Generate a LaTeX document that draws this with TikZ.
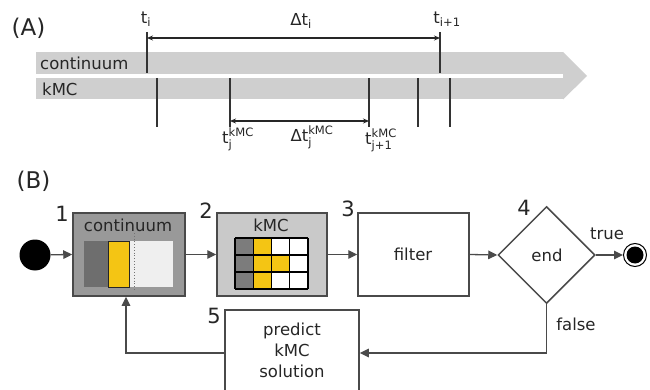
\documentclass[tikz,border=0pt]{standalone}
\usepackage{fontspec}
\usepackage{amsmath}
\setmainfont{DejaVu Sans}
\usetikzlibrary{arrows.meta,shapes.geometric}

\definecolor{bargray}{HTML}{CFCFCF}
\definecolor{boxdark}{HTML}{999999}
\definecolor{boxlight}{HTML}{C9C9C9}
\definecolor{cellgray}{HTML}{7C7C7C}
\definecolor{innerdark}{HTML}{6E6E6E}
\definecolor{ochre}{HTML}{F4C514}
\definecolor{pale}{HTML}{EFEFEF}
\definecolor{linegray}{HTML}{4A4A4A}

\tikzset{
  lbl/.style={font=\fontsize{16.5}{21}\selectfont, inner sep=0pt, text=black!85},
  big/.style={font=\fontsize{23}{27}\selectfont, inner sep=0pt, text=black!85},
  num/.style={font=\fontsize{21}{24}\selectfont, inner sep=0pt, text=black!85},
  tick/.style={line width=2pt, draw=black!80},
  span/.style={line width=1.2pt, draw=black!85,
    {Stealth[length=6pt,width=5pt]}-{Stealth[length=6pt,width=5pt]}},
  flow/.style={line width=1.3pt, draw=linegray,
    -{Triangle[length=9pt,width=8.5pt]}},
  stepbox/.style={draw=linegray, line width=1.5pt, inner sep=0pt,
    minimum height=83pt},
  cellline/.style={draw=black, line width=1.1pt},
}

\begin{document}
\begin{tikzpicture}[x=1pt,y=-1pt]
\useasboundingbox (0,0) rectangle (650,390);
\clip (0,0) rectangle (650,390);

% ---------------- (A) time lines ----------------
\node[big] (labA) at (28.5,28.5) {(A)};

\fill[bargray] (36,52) rectangle (563,74);
\fill[bargray] (36,78) rectangle (563,99.5);
\fill[bargray] (563,52) -- (587,76) -- (563,99.5) -- cycle;

\node[lbl, anchor=west] (barcont) at (40,63) {continuum};
\node[lbl, anchor=west] (barkmc) at (42,89) {kMC};

% continuum steps
\coordinate (ti top) at (147,32);
\coordinate (ti bot) at (147,73);
\coordinate (tn top) at (440,32);
\coordinate (tn bot) at (440,73);
\draw[tick] (ti top) -- (ti bot);
\draw[tick] (tn top) -- (tn bot);
\coordinate (dti a) at (147,38);
\coordinate (dti b) at (440,38);
\draw[span] (dti a) -- (dti b);
\node[lbl] (ti) at (146,19) {$\text{t}_{\text{i}}$};
\node[lbl] (tn) at (447,19) {$\text{t}_{\text{i+1}}$};
\node[lbl] (dti) at (301,21) {$\text{Δt}_{\text{i}}$};

% kMC steps
\foreach \x [count=\k] in {157,230,369,418,450}{
  \coordinate (k\k top) at (\x,78);
  \coordinate (k\k bot) at (\x,127);
  \draw[tick] (k\k top) -- (k\k bot);
}
\coordinate (dtj a) at (230,121);
\coordinate (dtj b) at (369,121);
\draw[span] (dtj a) -- (dtj b);
\node[lbl, anchor=west] (tj) at (222,139) {$\text{t}_{\text{j}}^{\text{kMC}}$};
\node[lbl] (dtj) at (312,137) {$\text{Δt}_{\text{j}}^{\text{kMC}}$};
\node[lbl, anchor=west] (tjn) at (365,140) {$\text{t}_{\text{j+1}}^{\text{kMC}}$};

% ---------------- (B) flow chart ----------------
\node[big] (labB) at (33.5,181.5) {(B)};

\node[circle, fill=black, minimum size=31pt, inner sep=0pt] (start) at (35,255) {};

\node[stepbox, fill=boxdark, minimum width=112pt] (cont) at (129,254.5) {};
\node[stepbox, fill=boxlight, minimum width=110pt] (kmc) at (272,254.5) {};
\node[stepbox, fill=white, minimum width=111pt] (filter) at (413.5,254.5) {};
\node[diamond, draw=linegray, line width=1.5pt, minimum width=97pt,
      minimum height=97pt, inner sep=0pt] (decide) at (546.5,255) {};
\node[circle, draw=black, line width=1pt, minimum size=23pt, inner sep=0pt] (stop) at (635,255) {};
\node[circle, fill=black, minimum size=17pt, inner sep=0pt] (stopdot) at (stop) {};
\node[stepbox, fill=white, minimum width=134pt, minimum height=86pt] (pred) at (292,353) {};

% texts inside the steps
\node[lbl] (conttxt) at (128,225) {continuum};
\node[lbl] (kmctxt) at (271,225) {kMC};
\node[lbl] (filtertxt) at (413,254) {filter};
\node[lbl] (decidetxt) at (547,255) {end};
\node[lbl, align=center] (predtxt) at (292,350) {predict\\kMC\\solution};

% continuum sketch: solid / reacting / fluid regions
\fill[innerdark] (84,241) rectangle (108,287);
\fill[pale] (129,241) rectangle (173,287);
\filldraw[fill=ochre, draw=black!85, line width=1pt] (108,241) rectangle (129,287);
\draw[dotted, line width=0.8pt, black!55] (134,233) -- (134,290);

% kMC lattice 4 x 3
\foreach \c/\r/\col in {0/0/cellgray,0/1/cellgray,0/2/cellgray,
                        1/0/ochre,1/1/ochre,1/2/ochre,2/1/ochre,
                        2/0/white,2/2/white,3/0/white,3/1/white,3/2/white}{
  \fill[\col] (235+18.25*\c,238+17*\r) rectangle (235+18.25*\c+18.25,238+17*\r+17);
}
\foreach \c in {0,...,4}{
  \draw[cellline] (235+18.25*\c,238) -- (235+18.25*\c,289);
}
\foreach \r in {0,...,3}{
  \draw[cellline] (235,238+17*\r) -- (308,238+17*\r);
}

% step numbers
\node[num] (n1) at (62,214) {1};
\node[num] (n2) at (206,211) {2};
\node[num] (n3) at (348,209) {3};
\node[num] (n4) at (524,208) {4};
\node[num] (n5) at (214,316) {5};

% connectors
\draw[flow] (start) -- (cont.west);
\draw[flow] (cont.east) -- (kmc.west);
\draw[flow] (kmc.east) -- (filter.west);
\draw[flow] (filter.east) -- (decide.west);
\draw[flow] (decide.east) -- (stop.west);
\draw[flow] (decide.south) |- (pred.east);
\draw[flow] (pred.west) -| ([xshift=-3pt]cont.south);

\node[lbl] (truetxt) at (607,234) {true};
\node[lbl] (falsetxt) at (576,324) {false};
\end{tikzpicture}
\end{document}
